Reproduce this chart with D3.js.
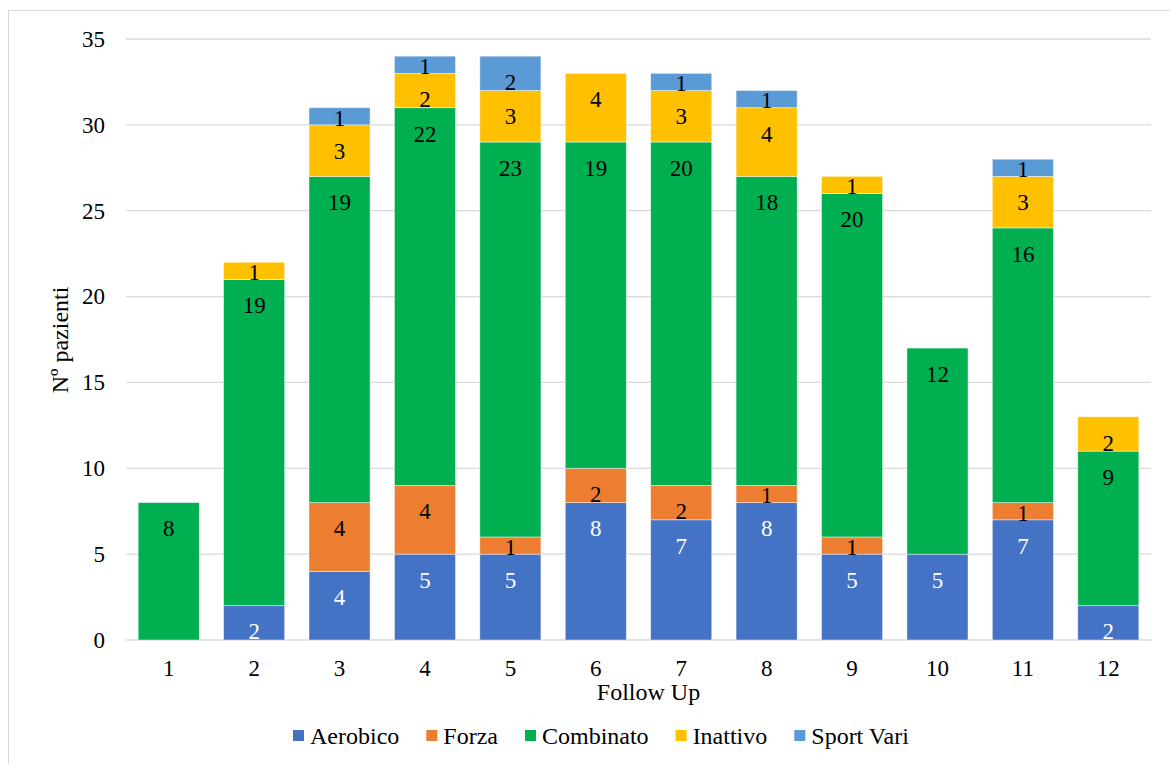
<!DOCTYPE html>
<html>
<head>
<meta charset="utf-8">
<script src="https://cdn.jsdelivr.net/npm/d3@7/dist/d3.min.js"></script>
</head>
<body style="margin:0">
<svg id="s" width="1170" height="764"></svg>
<script>
// Follow-up visits and patients by activity type
const followUps = ["1","2","3","4","5","6","7","8","9","10","11","12"];
const seriesNames = ["Aerobico","Forza","Combinato","Inattivo","Sport Vari"];
const aerobico  = [0, 2, 4, 5, 5, 8, 7, 8, 5, 5, 7, 2];
const forza     = [0, 0, 4, 4, 1, 2, 2, 1, 1, 0, 1, 0];
const combinato = [8,19,19,22,23,19,20,18,20,12,16, 9];
const inattivo  = [0, 1, 3, 2, 3, 4, 3, 4, 1, 0, 3, 2];
const sportVari = [0, 0, 1, 1, 2, 0, 1, 1, 0, 0, 1, 0];
const yTicks = [0, 5, 10, 15, 20, 25, 30, 35];
const colors = ["#4472C4", "#ED7D31", "#00B050", "#FFC000", "#5B9BD5"];
const labelColors = ["#ffffff", "#000000", "#000000", "#000000", "#000000"];

const seriesValues = [aerobico, forza, combinato, inattivo, sportVari];
const rows = followUps.map((f, i) => {
  const r = { follow: f };
  seriesNames.forEach((s, k) => { r[s] = seriesValues[k][i]; });
  return r;
});

const svg = d3.select("#s");
const fs = 23;
const FONT = "'Liberation Serif', serif";
const setFont = sel => sel.style("font-family", FONT, "important");

// outer chart frame
svg.append("rect")
  .attr("x", 8.5).attr("y", 10.5)
  .attr("width", 1300).attr("height", 900)
  .attr("fill", "none").attr("stroke", "#d9d9d9").attr("stroke-width", 1);

const plot = { left: 126, right: 1151, top: 39, bottom: 640 };

const x = d3.scaleBand()
  .domain(followUps)
  .range([plot.left, plot.right])
  .paddingInner(0.285)
  .paddingOuter(0.1425);

const y = d3.scaleLinear()
  .domain([0, 35])
  .range([plot.bottom, plot.top]);

// horizontal gridlines
svg.append("g")
  .selectAll("line")
  .data(yTicks)
  .join("line")
  .attr("x1", plot.left).attr("x2", plot.right)
  .attr("y1", d => y(d)).attr("y2", d => y(d))
  .attr("stroke", "#d9d9d9").attr("stroke-width", 1.3);

// y axis labels
const yAxis = d3.axisLeft(y).tickValues(yTicks).tickSize(0).tickPadding(0);
const yg = svg.append("g").attr("transform", `translate(${plot.left - 21},0)`).call(yAxis);
yg.attr("font-family", FONT);
yg.select(".domain").remove();
yg.selectAll("text")
  .attr("font-size", fs).attr("fill", "#000")
  .call(setFont);

// stacked bars
const stack = d3.stack().keys(seriesNames);
const layers = stack(rows);

const layerG = svg.append("g")
  .selectAll("g")
  .data(layers)
  .join("g")
  .attr("fill", (d, i) => colors[i]);

layerG.selectAll("rect")
  .data(d => d.filter(p => p[1] - p[0] > 0))
  .join("rect")
  .attr("x", d => x(d.data.follow))
  .attr("width", x.bandwidth())
  .attr("y", d => y(d[1]))
  .attr("height", d => y(d[0]) - y(d[1]))
  .attr("stroke", "rgba(255,255,255,0.55)")
  .attr("stroke-width", 0.8);

// value labels, placed inside the top end of each segment
const labelG = svg.append("g");
layers.forEach((layer, k) => {
  labelG.append("g")
    .selectAll("text")
    .data(layer.filter(p => p[1] - p[0] > 0))
    .join("text")
    .attr("x", d => x(d.data.follow) + x.bandwidth() / 2)
    .attr("y", d => {
      const top = y(d[1]), bot = y(d[0]), h = bot - top;
      const c = h > 25 ? top + 26 : (top + bot) / 2 + 1.5;
      return c + 0.34 * fs;
    })
    .attr("text-anchor", "middle")
    .attr("font-size", fs)
    .attr("fill", labelColors[k])
    .call(setFont)
    .text(d => d[1] - d[0]);
});

// x axis labels
const xAxis = d3.axisBottom(x).tickSize(0).tickPadding(0);
const xg = svg.append("g").attr("transform", `translate(0,${plot.bottom + 36})`).call(xAxis);
xg.attr("font-family", FONT);
xg.select(".domain").remove();
xg.selectAll("text")
  .attr("font-size", fs).attr("fill", "#000").attr("dy", 0)
  .call(setFont);

// axis titles
svg.append("text")
  .attr("x", (plot.left + plot.right) / 2 + 10)
  .attr("y", 700)
  .attr("text-anchor", "middle")
  .attr("font-size", 24)
  .call(setFont)
  .text("Follow Up");

svg.append("text")
  .attr("transform", "translate(68,340) rotate(-90)")
  .attr("text-anchor", "middle")
  .attr("font-size", 24)
  .call(setFont)
  .text("Nº pazienti");

// legend
const legend = svg.append("g").attr("transform", "translate(293,736)");
let lx = 0;
seriesNames.forEach((name, i) => {
  const g = legend.append("g").attr("transform", `translate(${lx},0)`);
  g.append("rect")
    .attr("x", 0).attr("y", -6)
    .attr("width", 11).attr("height", 11)
    .attr("fill", colors[i]);
  const t = g.append("text")
    .attr("x", 17).attr("y", 8)
    .attr("font-size", 24)
    .call(setFont)
    .text(name);
  lx += 17 + t.node().getComputedTextLength() + 27;
});
</script>
</body>
</html>
